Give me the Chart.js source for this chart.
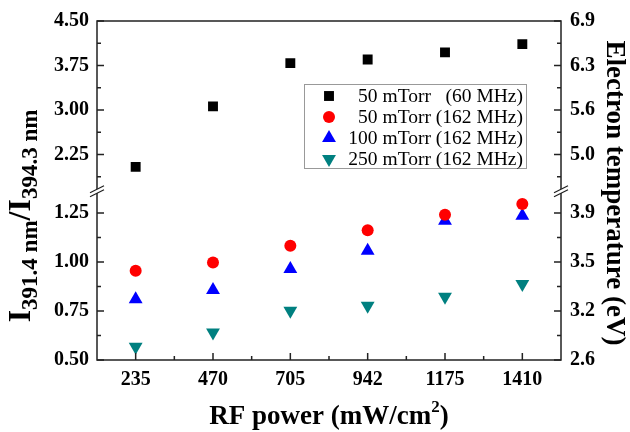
<!DOCTYPE html>
<html>
<head>
<meta charset="utf-8">
<script src="https://cdn.jsdelivr.net/npm/chart.js@4.4.1/dist/chart.umd.min.js"></script>
<style>
  html, body { margin: 0; padding: 0; background: #fff; }
  #wrap { width: 630px; height: 432px; }
</style>
</head>
<body>
<div id="wrap"><canvas id="myChart" width="630" height="432"></canvas></div>
<script>
// RF power categories (mW/cm2)
const power = ['235', '470', '705', '942', '1175', '1410'];

// intensity ratio per series
const ratio60 = [2.04, 3.06, 3.79, 3.85, 3.97, 4.11];
const ratio50 = [0.956, 0.998, 1.083, 1.163, 1.241, 1.296];
const ratio100 = [0.81, 0.857, 0.964, 1.058, 1.211, 1.236];
const ratio250 = [0.568, 0.64, 0.752, 0.777, 0.823, 0.888];

// axis ticks, broken axis (upper and lower part)
const ticksHigh = [2.25, 3.00, 3.75, 4.50];
const ticksLow = [0.50, 0.75, 1.00, 1.25];
const teHigh = ['5.0', '5.6', '6.3', '6.9'];
const teLow = ['2.6', '3.2', '3.5', '3.9'];

const legendText = ['50 mTorr   (60 MHz)', '50 mTorr (162 MHz)', '100 mTorr (162 MHz)', '250 mTorr (162 MHz)'];

const serif = '"Liberation Serif", "Times New Roman", serif';
const tickFont = { family: serif, size: 20, weight: 'bold' };

const markers = [
    { pointStyle: 'rect', radius: 7, rotation: 0, color: '#000000' },
    { pointStyle: 'circle', radius: 6, rotation: 0, color: '#ff0000' },
    { pointStyle: 'triangle', radius: 8, rotation: 0, color: '#0000ff' },
    { pointStyle: 'triangle', radius: 8, rotation: 180, color: '#008080' }
];

function makeSet(label, data, axis, m) {
    return {
        label: label,
        data: data,
        yAxisID: axis,
        showLine: false,
        pointStyle: m.pointStyle,
        pointRadius: m.radius,
        pointRotation: m.rotation,
        pointBackgroundColor: m.color,
        pointBorderColor: m.color,
        pointBorderWidth: 0
    };
}

function yScale(pos, stack, weight, min, max, ticks, labels, width) {
    return {
        type: 'linear',
        position: pos,
        stack: stack,
        stackWeight: weight,
        min: min,
        max: max,
        grid: { display: false, drawTicks: false },
        border: { display: false },
        afterBuildTicks: (s) => { s.ticks = ticks.map(v => ({ value: v })); },
        afterFit: (s) => { s.width = width; },
        ticks: {
            font: tickFont,
            color: '#000',
            padding: pos === 'left' ? 8 : 9,
            callback: (v) => labels ? labels[ticks.indexOf(v)] : v.toFixed(2)
        }
    };
}

// frame, inward ticks, axis break, titles and legend
const decor = {
    id: 'decor',
    afterDraw(chart) {
        const ctx = chart.ctx;
        const a = chart.chartArea;
        const sc = chart.scales;
        ctx.save();
        ctx.strokeStyle = '#222';
        ctx.lineWidth = 1.5;
        ctx.strokeRect(a.left, a.top, a.right - a.left, a.bottom - a.top);

        ctx.beginPath();
        [['yHigh', ticksHigh], ['yLow', ticksLow]].forEach(([id, tk]) => {
            const s = sc[id];
            const step = tk[1] - tk[0];
            tk.forEach(t => {
                const y = s.getPixelForValue(t);
                ctx.moveTo(a.left, y); ctx.lineTo(a.left + 7, y);
                ctx.moveTo(a.right, y); ctx.lineTo(a.right - 7, y);
                const m = t - step / 2;
                if (m > s.min) {
                    const ym = s.getPixelForValue(m);
                    ctx.moveTo(a.left, ym); ctx.lineTo(a.left + 4, ym);
                    ctx.moveTo(a.right, ym); ctx.lineTo(a.right - 4, ym);
                }
            });
        });
        const sx = sc.x;
        power.forEach((p, i) => {
            const x = sx.getPixelForValue(i);
            ctx.moveTo(x, a.bottom); ctx.lineTo(x, a.bottom - 7);
            if (i > 0) {
                const xm = (x + sx.getPixelForValue(i - 1)) / 2;
                ctx.moveTo(xm, a.bottom); ctx.lineTo(xm, a.bottom - 4);
            }
        });
        ctx.stroke();

        // axis break marks
        const yb = sc.yHigh.bottom;
        [a.left, a.right].forEach(x => {
            ctx.fillStyle = '#fff';
            ctx.beginPath();
            ctx.moveTo(x - 7, yb + 5); ctx.lineTo(x + 7, yb - 2);
            ctx.lineTo(x + 7, yb - 6); ctx.lineTo(x - 7, yb + 1);
            ctx.closePath();
            ctx.fill();
            ctx.beginPath();
            ctx.lineWidth = 1.3;
            ctx.moveTo(x - 7, yb + 5); ctx.lineTo(x + 7, yb - 2);
            ctx.moveTo(x - 7, yb + 1); ctx.lineTo(x + 7, yb - 6);
            ctx.stroke();
        });

        ctx.fillStyle = '#000';
        // x title
        ctx.textBaseline = 'alphabetic';
        ctx.textAlign = 'left';
        const big = 'bold 27px ' + serif;
        const sup = 'bold 17px ' + serif;
        ctx.font = big;
        const t1 = 'RF power (mW/cm';
        const w1 = ctx.measureText(t1).width;
        ctx.font = sup;
        const w2 = ctx.measureText('2').width;
        ctx.font = big;
        const w3 = ctx.measureText(')').width;
        let x0 = 329 - (w1 + w2 + w3) / 2;
        ctx.fillText(t1, x0, 424);
        ctx.font = sup;
        ctx.fillText('2', x0 + w1, 412);
        ctx.font = big;
        ctx.fillText(')', x0 + w1 + w2, 424);

        // left title, rotated
        const parts = [
            ['I', 'bold 32px ' + serif, 0],
            ['391.4 nm', 'bold 23px ' + serif, 7],
            ['/', 'bold 32px ' + serif, 0],
            ['I', 'bold 32px ' + serif, 0],
            ['394.3 nm', 'bold 23px ' + serif, 7]
        ];
        let total = 0;
        parts.forEach(p => { ctx.font = p[1]; total += ctx.measureText(p[0]).width; });
        ctx.save();
        ctx.translate(30, 216);
        ctx.rotate(-Math.PI / 2);
        let px = -total / 2;
        parts.forEach(p => {
            ctx.font = p[1];
            ctx.fillText(p[0], px, p[2]);
            px += ctx.measureText(p[0]).width;
        });
        ctx.restore();

        // right title, rotated
        ctx.save();
        ctx.translate(614, 193);
        ctx.rotate(Math.PI / 2);
        ctx.font = 'bold 27px ' + serif;
        ctx.textAlign = 'center';
        ctx.textBaseline = 'middle';
        ctx.fillText('Electron temperature (eV)', 0, 0);
        ctx.restore();

        // legend
        ctx.strokeStyle = '#999';
        ctx.lineWidth = 1;
        ctx.strokeRect(304.5, 84.5, 222, 84);
        ctx.font = '19.5px ' + serif;
        ctx.textAlign = 'right';
        ctx.textBaseline = 'middle';
        legendText.forEach((txt, i) => {
            const y = 96 + i * 21;
            const m = markers[i];
            ctx.fillStyle = m.color;
            ctx.strokeStyle = m.color;
            Chart.helpers.drawPoint(ctx, { pointStyle: m.pointStyle, radius: m.radius, rotation: m.rotation, borderWidth: 0 }, 329, y);
            ctx.fillStyle = '#000';
            ctx.fillText(txt, 523, y + 1);
        });
        ctx.restore();
    }
};

const ctx = document.getElementById('myChart');
const chart = new Chart(ctx, {
    type: 'line',
    data: {
        labels: power,
        datasets: [
            makeSet(legendText[0], ratio60, 'yHigh', markers[0]),
            makeSet(legendText[1], ratio50, 'yLow', markers[1]),
            makeSet(legendText[2], ratio100, 'yLow', markers[2]),
            makeSet(legendText[3], ratio250, 'yLow', markers[3])
        ]
    },
    options: {
        responsive: false,
        animation: false,
        layout: { padding: { top: 19, left: 0, right: 0, bottom: 0 } },
        plugins: { legend: { display: false }, tooltip: { enabled: false } },
        scales: {
            x: {
                type: 'category',
                offset: true,
                grid: { display: false, drawTicks: false },
                border: { display: false },
                afterFit: (s) => { s.height = 72; },
                ticks: { font: tickFont, color: '#000', padding: 8 }
            },
            yLow: yScale('left', 'left', 169, 0.5, 1.359, ticksLow, null, 97),
            yHigh: yScale('left', 'left', 171.5, 1.62, 4.5, ticksHigh, null, 97),
            rHigh: yScale('right', 'right', 171.5, 1.62, 4.5, ticksHigh, teHigh, 69),
            rLow: yScale('right', 'right', 169, 0.5, 1.359, ticksLow, teLow, 69)
        }
    },
    plugins: [decor]
});
</script>
</body>
</html>
